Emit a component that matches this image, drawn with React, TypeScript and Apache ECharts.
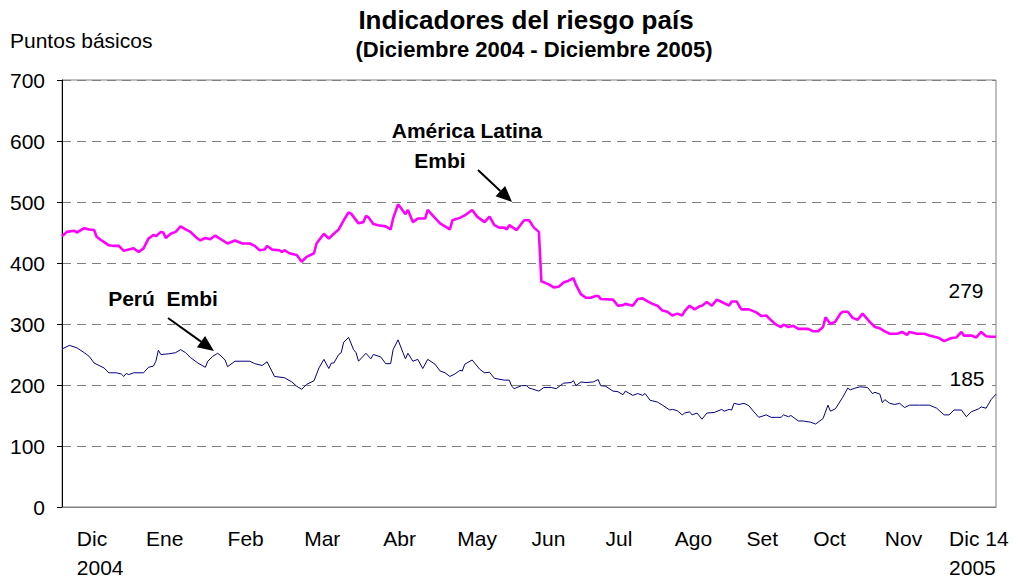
import React, { useEffect, useRef } from "react";
import * as echarts from "echarts";

// Day index (0 = start of Dec 2004 on the chart) and value in basis points
const latamDays = [0,2,5,6,9,11,13,14,16,19,21,23,25,27,29,31,33,35,37,38,40,41,42,44,46,48,50,52,54,56,58,60,62,67,70,73,76,78,80,82,83,85,88,89,90,92,95,97,99,102,103,106,108,110,112,114,116,117,120,122,123,124,126,128,131,133,134,136,137,139,140,142,144,147,148,150,153,155,157,158,161,163,166,168,171,173,175,177,179,180,181,184,187,189,191,193,194,197,199,201,203,205,207,208,210,212,214,216,217,218,223,225,227,228,231,233,235,237,239,241,243,245,247,249,251,252,254,256,258,259,261,263,265,267,270,271,273,274,275,278,281,283,285,287,289,291,292,294,296,298,302,304,306,308,309,311,313,315,316,318,320,322,324,327,329,331,333,335,338,340,342,343,346,349,351,355,357,360,362,364,365,368,370,372,374,376,378];
const latamValues = [444,451,453,450,457,455,454,443,437,429,428,428,420,422,424,418,424,440,446,444,451,450,441,448,451,460,455,451,443,437,441,439,445,432,437,432,432,428,421,422,428,422,421,418,421,416,413,402,410,416,432,448,440,448,455,470,483,481,465,467,477,475,464,462,460,455,473,496,491,480,487,467,473,473,487,478,465,460,455,470,474,478,487,476,467,476,462,458,458,455,462,454,470,470,458,451,370,365,360,361,368,371,375,364,349,343,343,346,346,341,340,330,331,333,330,341,342,337,333,330,322,320,314,317,314,321,330,324,329,330,336,330,340,336,330,337,337,330,324,324,319,313,314,306,299,295,299,295,297,292,292,288,288,295,311,300,304,317,320,320,310,307,317,303,295,293,288,284,284,287,282,287,284,284,281,277,272,277,278,287,281,281,278,287,280,279,279];

const peruDays = [0,3,6,9,11,13,15,17,19,22,24,25,26,27,29,33,35,37,38,39,40,43,46,48,50,52,55,58,59,61,63,64,66,67,70,76,78,81,83,86,90,93,95,97,99,102,104,106,108,109,110,112,113,114,116,118,119,120,123,125,126,129,131,133,134,136,138,139,140,142,144,146,148,151,153,155,157,159,161,162,163,166,169,171,173,175,179,181,182,183,186,188,189,190,193,195,198,200,203,206,207,208,210,212,215,217,218,220,223,225,227,228,231,233,235,236,238,241,243,246,247,249,251,252,254,255,257,259,261,264,267,268,270,271,272,274,276,278,280,282,285,287,291,292,294,295,298,300,303,305,308,310,311,313,316,318,319,321,323,326,328,329,331,332,333,335,337,339,341,343,347,351,354,357,359,361,364,366,368,371,372,374,376,378];
const peruValues = [259,265,261,253,247,236,232,228,220,220,218,214,219,217,220,220,229,231,239,257,250,251,253,258,253,245,236,229,239,247,252,249,241,230,239,239,235,232,238,214,212,205,198,193,201,207,228,242,227,236,236,250,253,270,278,258,253,239,252,243,250,246,235,235,258,274,253,243,252,239,242,227,242,234,223,220,214,218,224,223,234,241,226,220,221,211,208,208,198,194,199,199,195,194,190,196,196,194,203,204,207,199,205,204,205,209,199,198,190,189,184,190,183,186,183,186,175,172,167,159,160,158,151,154,156,151,154,144,154,155,160,157,160,159,170,168,170,166,156,147,151,147,147,151,148,150,141,141,139,136,145,167,157,161,180,195,192,195,197,196,186,188,185,171,176,170,168,170,163,167,167,167,162,151,151,159,159,148,156,161,164,162,176,185];

const monthTickDays = [6, 34, 67, 98, 130, 160, 190, 220, 248, 277, 304, 333, 359];
const monthLabels = ["Dic\n2004","Ene","Feb","Mar","Abr","May","Jun","Jul","Ago","Set","Oct","Nov","Dic 14\n2005"];
const yTicks = [0, 100, 200, 300, 400, 500, 600, 700];

const FONT = "'Liberation Sans', Arial, sans-serif";

function arrow(x1: number, y1: number, x2: number, y2: number) {
  const dx = x2 - x1, dy = y2 - y1;
  const len = Math.sqrt(dx * dx + dy * dy);
  const ux = dx / len, uy = dy / len;
  const hl = 16, hw = 7;
  const bx = x2 - ux * hl, by = y2 - uy * hl;
  return [
    { type: "line", shape: { x1, y1, x2: bx, y2: by }, style: { stroke: "#000", lineWidth: 2 } },
    { type: "polygon", shape: { points: [[x2, y2], [bx - uy * hw, by + ux * hw], [bx + uy * hw, by - ux * hw]] }, style: { fill: "#000" } },
  ];
}

export default function App() {
  const ref = useRef<HTMLDivElement>(null);
  useEffect(() => {
    if (!ref.current) return;
    const chart = echarts.init(ref.current, null, { renderer: "svg" });
    const latam = latamDays.map((d, i) => [d, latamValues[i]]);
    const peru = peruDays.map((d, i) => [d, peruValues[i]]);
    chart.setOption({
      animation: false,
      backgroundColor: "#fff",
      textStyle: { fontFamily: FONT },
      title: [
        { text: "Indicadores del riesgo país", left: 521, textAlign: "center", top: 2,
          textStyle: { fontSize: 26, fontWeight: "bold", color: "#000", fontFamily: FONT } },
        { text: "(Diciembre 2004 - Diciembre 2005)", left: 529, textAlign: "center", top: 33,
          textStyle: { fontSize: 22, fontWeight: "bold", color: "#000", fontFamily: FONT } },
      ],
      grid: { left: 62, right: 23, top: 80, bottom: 77, show: true, borderColor: "#808080", borderWidth: 1, backgroundColor: "#fff" },
      xAxis: {
        type: "value", min: 0, max: 378,
        axisLine: { show: true, lineStyle: { color: "#808080", width: 1 } },
        axisTick: { show: false },
        splitLine: { show: false },
        axisLabel: {
          customValues: monthTickDays,
          formatter: (v: number) => {
            const i = monthTickDays.indexOf(v);
            return i >= 0 ? monthLabels[i] : "";
          },
          align: "left", verticalAlign: "top",
          fontSize: 21, lineHeight: 29, color: "#000", margin: 17, fontFamily: FONT,
        },
      },
      yAxis: {
        type: "value", min: 0, max: 700, interval: 100,
        axisLine: { show: true, lineStyle: { color: "#000", width: 1 } },
        axisTick: { show: true, length: 5, lineStyle: { color: "#000" } },
        axisLabel: { fontSize: 21, color: "#000", margin: 17, fontFamily: FONT,
          formatter: (v: number) => (yTicks.indexOf(v) >= 0 ? String(v) : "") },
        splitLine: { show: true, lineStyle: { color: "#808080", type: [9, 6], width: 1 } },
      },
      series: [
        { name: "América Latina Embi", type: "line", data: latam, showSymbol: false,
          lineStyle: { color: "#FF00FF", width: 2.6 }, itemStyle: { color: "#FF00FF" }, z: 3 },
        { name: "Perú Embi", type: "line", data: peru, showSymbol: false,
          lineStyle: { color: "#000080", width: 1 }, itemStyle: { color: "#000080" }, z: 3 },
      ],
      graphic: [
        { type: "text", left: 10, top: 30, style: { text: "Puntos básicos", fontSize: 21, fill: "#000", fontFamily: FONT } },
        { type: "text", x: 467, y: 130, style: { text: "América Latina", fontSize: 21, fontWeight: "bold", fill: "#000", align: "center", verticalAlign: "middle", fontFamily: FONT } },
        { type: "text", x: 440, y: 160, style: { text: "Embi", fontSize: 21, fontWeight: "bold", fill: "#000", align: "center", verticalAlign: "middle", fontFamily: FONT } },
        { type: "text", x: 163, y: 298, style: { text: "Perú  Embi", fontSize: 21, fontWeight: "bold", fill: "#000", align: "center", verticalAlign: "middle", fontFamily: FONT } },
        { type: "text", x: 966, y: 290, style: { text: "279", fontSize: 21, fill: "#000", align: "center", verticalAlign: "middle", fontFamily: FONT } },
        { type: "text", x: 966, y: 378, z: 10, style: { text: "185", fontSize: 21, fill: "#000", align: "center", verticalAlign: "middle", fontFamily: FONT, backgroundColor: "#fff", padding: [0, 6, 0, 8] } },
        ...arrow(478, 170, 512, 202),
        ...arrow(168, 318, 214, 351),
      ],
    });
    return () => chart.dispose();
  }, []);
  return <div ref={ref} style={{ position: "fixed", left: 0, top: 0, width: 1019, height: 584 }} />;
}
